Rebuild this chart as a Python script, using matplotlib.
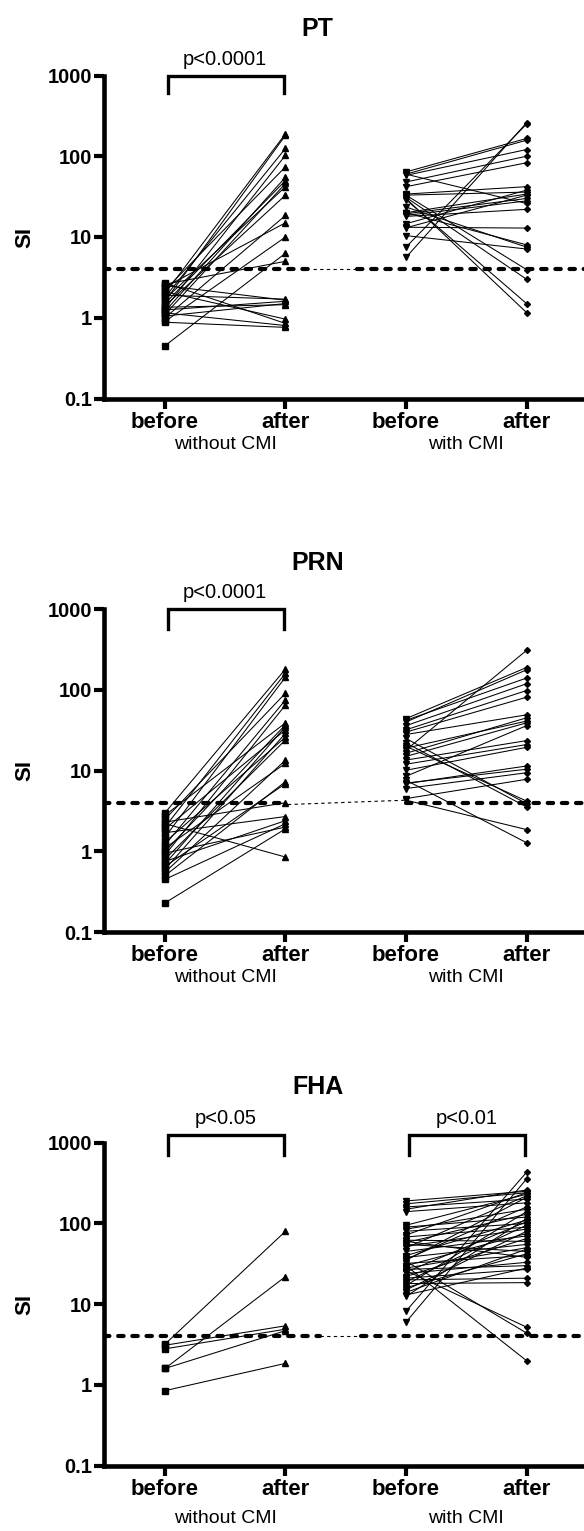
import matplotlib.pyplot as plt
from matplotlib.ticker import NullLocator

plt.rcParams['font.family'] = ['Liberation Sans', 'DejaVu Sans']

# shared axis text
x_labels = ['before', 'after', 'before', 'after']
group_labels = ['without CMI', 'with CMI']
y_ticks = [0.1, 1, 10, 100, 1000]
y_tick_labels = ['0.1', '1', '10', '100', '1000']
cutoff = 4

# PT
pt_wo_before = [2.0, 1.6, 1.8, 1.3, 2.2, 1.2, 1.5, 1.1, 1.7, 1.4, 1.0, 2.4,
                0.9, 0.45, 2.6, 1.9, 2.5, 1.25, 1.05, 1.35, 2.1, 2.7, 1.15, 0.88]
pt_wo_after = [190, 182, 125, 103, 74, 55, 50, 46, 42, 33, 18.5, 15,
               10, 6.3, 5.0, 1.7, 1.65, 1.6, 1.5, 1.45, 0.96, 0.85, 0.8, 0.76]
pt_w_before = [64, 60, 58, 48, 42, 5.6, 7.5, 34, 33, 30, 29, 31,
               33, 20, 19.4, 18.5, 14.6, 13.2, 10.4, 23.5, 20, 18, 13, 60]
pt_w_after = [166, 158, 121, 100, 83, 259, 250, 42, 36, 1.16, 1.5, 3.0,
              3.95, 34, 30, 28, 38, 12.9, 7.1, 7.5, 8.0, 22, 33, 26]

# PRN
prn_wo_before = [3.0, 2.0, 1.5, 2.5, 1.2, 0.9, 2.8, 1.0, 0.7, 1.9, 0.6, 1.3,
                 0.8, 0.55, 1.1, 0.5, 0.65, 2.3, 1.7, 0.75, 0.45, 0.95, 0.23, 2.2]
prn_wo_after = [181, 161, 144, 91, 75, 65, 39, 37, 35, 32, 29, 26,
                24, 13.5, 12.3, 7.3, 6.9, 4.0, 2.7, 2.4, 2.2, 2.0, 1.9, 0.85]
prn_w_before = [44, 40, 42, 36, 32, 18, 30, 25, 22, 20, 28, 16.4,
                19, 15, 13.5, 12, 10.1, 8.5, 7.6, 6.9, 7.0, 6.0, 4.5, 4.3]
prn_w_after = [189, 177, 140, 119, 98, 308, 81, 3.9, 3.55, 4.2, 49, 45,
               41, 39, 23.5, 21, 19.4, 36, 1.28, 11.4, 10.4, 9.4, 7.8, 1.86]

# FHA
fha_wo_before = [3.2, 3.1, 2.8, 1.6, 1.6, 0.85]
fha_wo_after = [80, 5.4, 4.9, 22, 4.7, 1.85]
fha_w_before = [190, 175, 160, 150, 140, 95, 90, 85, 80, 72, 68, 62, 58, 55,
                52, 50, 45, 40, 38, 36, 34, 32, 30, 30, 28, 27, 26, 25, 24,
                22, 21, 20, 19, 18, 17, 16, 15, 14, 13, 12.5, 8.2, 6.0, 35, 60]
fha_w_after = [250, 240, 200, 260, 180, 230, 120, 150, 100, 240, 90, 60, 130, 45,
               85, 220, 70, 110, 55, 160, 4.4, 40, 2.0, 75, 50, 30, 5.2, 105, 33,
               65, 27, 21, 95, 18.5, 140, 42, 80, 48, 28, 115, 430, 355, 210, 38]

panels = [
    dict(title='PT', top=75.5,
         wo=(pt_wo_before, pt_wo_after), w=(pt_w_before, pt_w_after),
         stats=[(0, 'p<0.0001')], bracket=(1000, 600),
         thin=((1.23, 4), (1.59, 4)), title_off=47, group_off=46),
    dict(title='PRN', top=609.1,
         wo=(prn_wo_before, prn_wo_after), w=(prn_w_before, prn_w_after),
         stats=[(0, 'p<0.0001')], bracket=(1000, 570),
         thin=((1.02, 3.8), (2.0, 4.3)), title_off=46, group_off=45),
    dict(title='FHA', top=1142.7,
         wo=(fha_wo_before, fha_wo_after), w=(fha_w_before, fha_w_after),
         stats=[(0, 'p<0.05'), (2, 'p<0.01')], bracket=(1245, 705),
         thin=((1.29, 4), (1.63, 4)), title_off=56, group_off=53),
]

W, H = 584, 1531
fig = plt.figure(figsize=(W / 100, H / 100), dpi=100)

for p in panels:
    ax = fig.add_axes([104 / W, 1 - (p['top'] + 323) / H, 480 / W, 323 / H])
    ax.set_yscale('log')
    ax.set_ylim(0.1, 1000)
    ax.set_xlim(-0.506, 3.477)

    # cutoff line, thick dashes with a thin piece in the middle
    (xa, ya), (xb, yb) = p['thin']
    dash = dict(color='black', lw=3, ls=(0, (1.3, 2.1)), dash_capstyle='round')
    ax.plot([-0.506, xa], [cutoff, cutoff], **dash)
    ax.plot([xb, 3.477], [cutoff, cutoff], **dash)
    ax.plot([xa, xb], [ya, yb], color='black', lw=0.8, ls=(0, (3, 3)))

    before, after = p['wo']
    for b, a in zip(before, after):
        ax.plot([0, 1], [b, a], color='black', lw=0.75)
    ax.plot([0] * len(before), before, 's', color='black', ms=5, ls='none')
    ax.plot([1] * len(after), after, '^', color='black', ms=5, ls='none')

    before, after = p['w']
    for b, a in zip(before, after):
        ax.plot([2, 3], [b, a], color='black', lw=0.75)
    ax.plot([2] * len(before), before, 'v', color='black', ms=5, ls='none')
    ax.plot([3] * len(after), after, 'D', color='black', ms=3, ls='none')

    # significance brackets
    top, leg = p['bracket']
    for x0, txt in p['stats']:
        ax.plot([x0 + 0.025, x0 + 0.025, x0 + 0.985, x0 + 0.985],
                [leg, top, top, leg], color='black', lw=2.4, clip_on=False,
                solid_joinstyle='miter')
        ax.annotate(txt, xy=(x0 + 0.5, top), xytext=(0, 7.8),
                    textcoords='offset points', ha='center', va='baseline',
                    fontsize=14.5, annotation_clip=False)

    ax.spines['top'].set_visible(False)
    ax.spines['right'].set_visible(False)
    for s in ['left', 'bottom']:
        ax.spines[s].set_linewidth(3.3)

    ax.set_yticks(y_ticks, y_tick_labels, fontweight='bold', fontsize=14.5)
    ax.yaxis.set_minor_locator(NullLocator())
    ax.set_xticks(range(4), x_labels, fontweight='bold', fontsize=16)
    ax.tick_params(axis='both', direction='out', length=7.5, width=3)
    ax.tick_params(axis='y', pad=1.2)
    ax.tick_params(axis='x', pad=2)

    for gx, g in zip([0.5, 2.5], group_labels):
        ax.annotate(g, xy=(gx, 0), xycoords=('data', 'axes fraction'),
                    xytext=(0, -p['group_off'] * 0.72), textcoords='offset points',
                    ha='center', va='center', fontsize=14)

    ax.text(-0.1646, 0.5, 'SI', transform=ax.transAxes, rotation=90,
            ha='center', va='center', fontsize=16, fontweight='bold')
    ax.text(0.445, 1 + p['title_off'] / 323, p['title'], transform=ax.transAxes,
            ha='center', va='center', fontsize=18, fontweight='bold')

fig.savefig('out.png', dpi=100)
